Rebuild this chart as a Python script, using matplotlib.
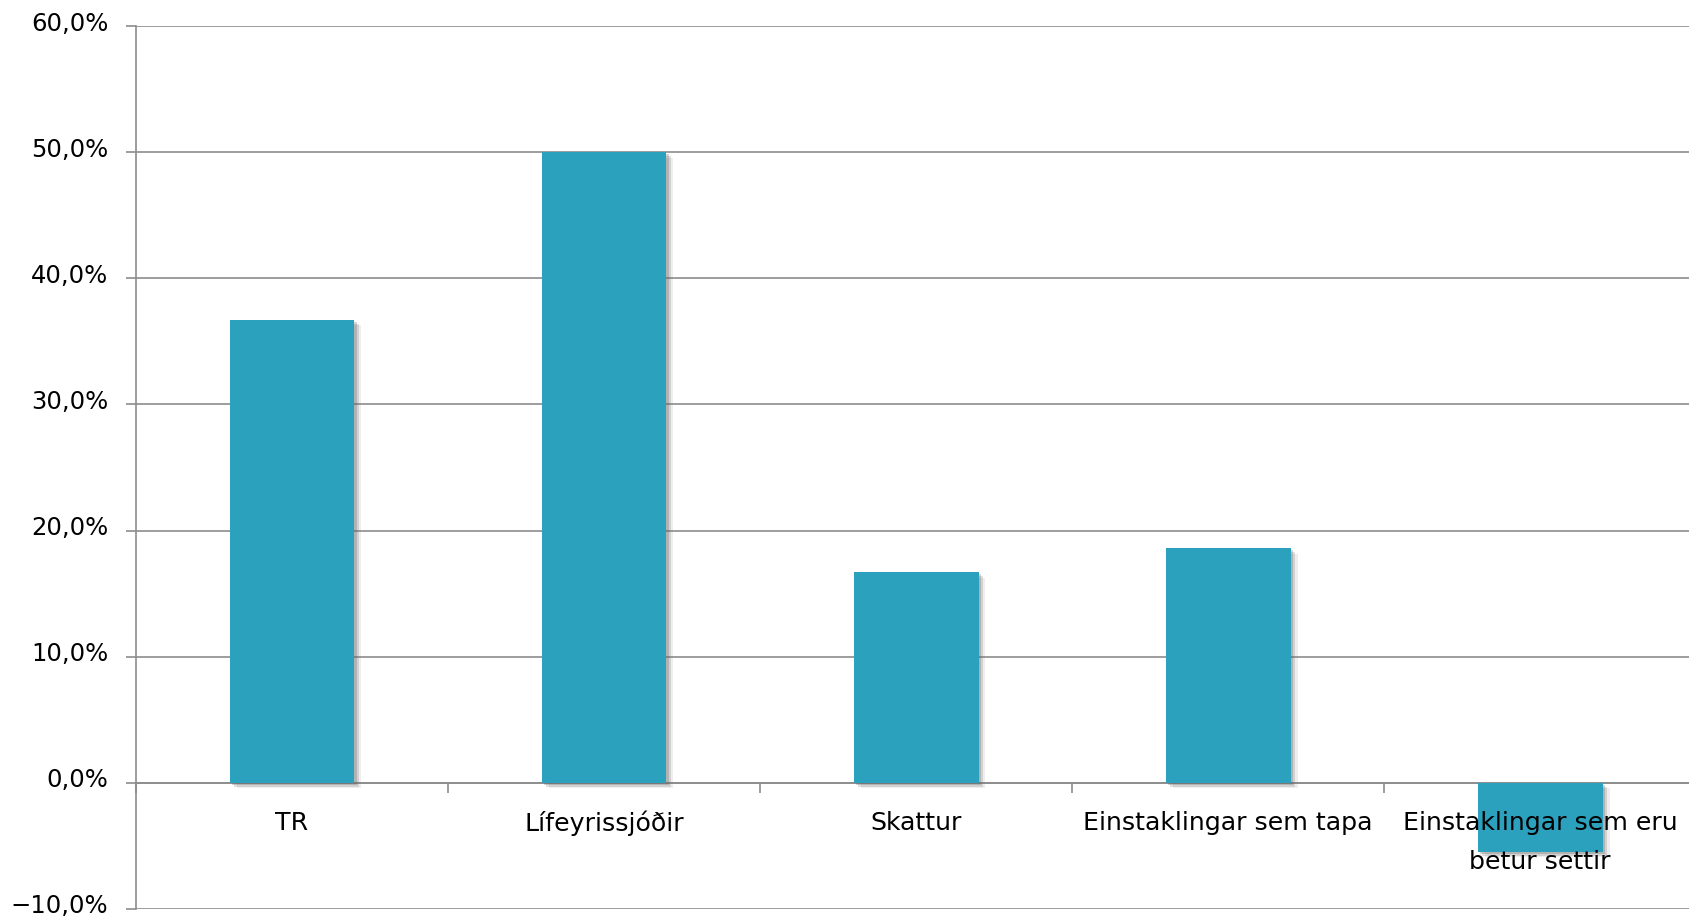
import numpy as np
import matplotlib.pyplot as plt
import matplotlib.patheffects as pe
from matplotlib.ticker import FuncFormatter
from matplotlib.transforms import ScaledTranslation

# Categories and shares (in %)
categories = ["TR", "Lífeyrissjóðir", "Skattur", "Einstaklingar sem tapa",
              "Einstaklingar sem eru\nbetur settir"]
shares = [36.7, 50.0, 16.7, 18.6, -5.45]

bar_color = "#2CA1BE"
grid_color = "#8c8c8c"

fig = plt.figure(figsize=(16.9, 9.17), dpi=100)
ax = fig.add_axes([136 / 1690, 8 / 917, (1690 - 136) / 1690, (909 - 26) / 917])

x = np.arange(len(categories))
# soft drop shadow built from a few offset layers
shadow = [pe.SimplePatchShadow(offset=(5, -4), shadow_rgbFace="#777777", alpha=0.12),
          pe.SimplePatchShadow(offset=(3, -3), shadow_rgbFace="#666666", alpha=0.2),
          pe.SimplePatchShadow(offset=(1.5, -1.5), shadow_rgbFace="#555555", alpha=0.25),
          pe.Normal()]
bars = ax.bar(x, shares, width=0.4, color=bar_color, zorder=3)
for b in bars:
    b.set_path_effects(shadow)

ax.set_xlim(-0.5, 4.48)
ax.set_ylim(-10, 60)
ax.set_yticks(np.arange(-10, 61, 10))
ax.yaxis.set_major_formatter(FuncFormatter(lambda v, p: f"{v:.1f}%".replace(".", ",").replace("-", "−")))
ax.grid(axis="y", color=grid_color, linewidth=1.2, zorder=0)
ax.tick_params(axis="y", length=7, width=1.2, color=grid_color, labelsize=17.5, pad=13)
# tick labels sit slightly above their gridlines
lift = ScaledTranslation(0, 0.05, fig.dpi_scale_trans)
for lbl in ax.get_yticklabels():
    lbl.set_transform(lbl.get_transform() + lift)

# x axis sits on zero, ticks mark the category boundaries
ax.spines["bottom"].set_position(("data", 0))
ax.spines["bottom"].set_color(grid_color)
ax.spines["bottom"].set_linewidth(1.2)
ax.set_xticks(np.arange(-0.5, 4.5, 1.0))
ax.set_xticklabels([])
ax.tick_params(axis="x", length=7, width=1.2, color=grid_color, direction="out")
for s in ["top", "right"]:
    ax.spines[s].set_visible(False)
ax.spines["left"].set_color(grid_color)
ax.spines["left"].set_linewidth(1.2)

for i, name in enumerate(categories):
    ax.annotate(name, xy=(i, 0), xytext=(0, -20), textcoords="offset points",
                ha="center", va="top", fontsize=18.2, linespacing=1.8, zorder=5)

fig.savefig("out.png", dpi=100)
